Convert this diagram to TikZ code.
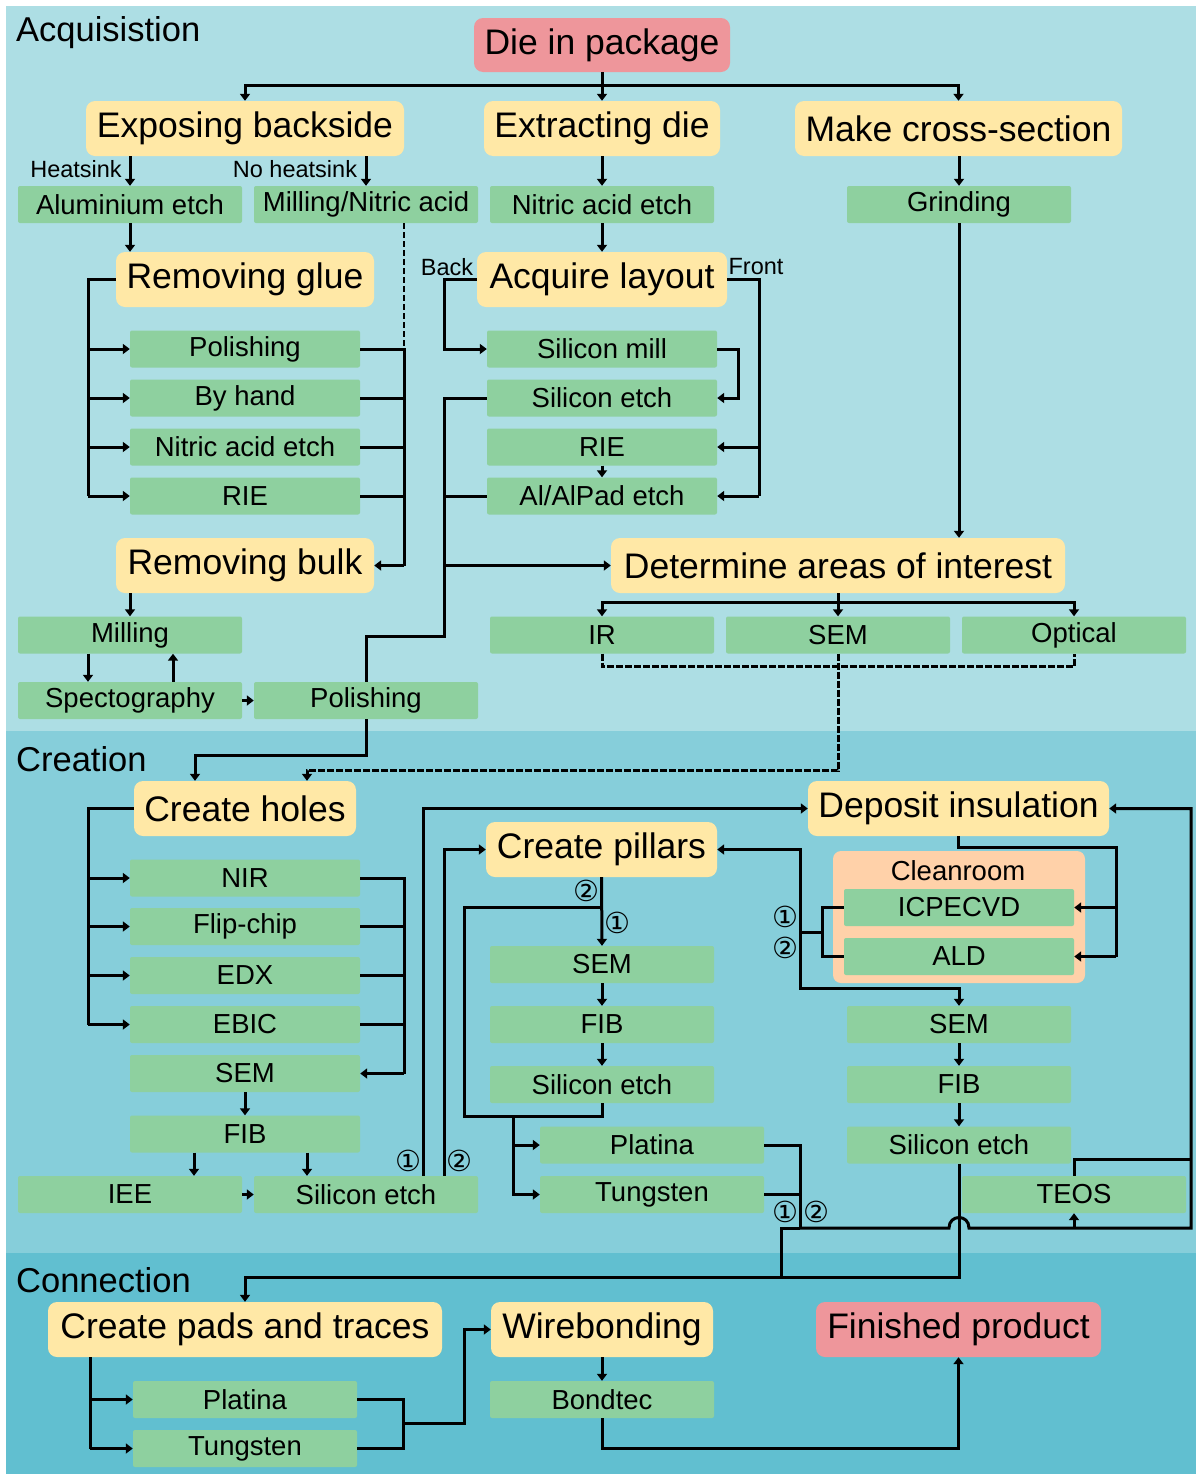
\documentclass[tikz,border=0pt]{standalone}
\usepackage{fontspec}
\setmainfont{Liberation Sans}
\newfontfamily\circfont{DejaVu Sans}
\usetikzlibrary{arrows.meta}
\definecolor{bgA}{HTML}{ADDEE4}
\definecolor{bgB}{HTML}{86CEDA}
\definecolor{bgC}{HTML}{61BFD0}
\definecolor{ylw}{HTML}{FFE8A6}
\definecolor{grn}{HTML}{8ED09F}
\definecolor{pnk}{HTML}{EE969B}
\definecolor{pch}{HTML}{FFD1A9}
\begin{document}
\begin{tikzpicture}[x=1pt,y=-1pt,
 bigbox/.style={fill=ylw, rounded corners=9pt, minimum height=55pt, inner sep=0pt, font=\fontsize{35.5}{40}\selectfont},
 endbox/.style={bigbox, fill=pnk},
 stepbox/.style={fill=grn, rounded corners=2pt, minimum height=37pt, minimum width=224pt, inner sep=0pt, font=\fontsize{27.5}{32}\selectfont},
 wide/.style={minimum width=230pt},
 lbl/.style={font=\fontsize{23.5}{27}\selectfont, inner sep=0pt},
 num/.style={font=\circfont\fontsize{29}{32}\selectfont, inner sep=0pt},
 sect/.style={font=\fontsize{34.5}{40}\selectfont, anchor=west, inner sep=0pt},
 ln/.style={line width=3pt},
 arr/.style={ln, -{Triangle[length=7pt,width=10pt]}},
 dsh/.style={ln, dash pattern=on 7pt off 2pt},
]
% backgrounds
\fill[white] (0,0) rectangle (1198,1475);
\fill[bgA] (6,6) rectangle (1196,731);
\fill[bgB] (6,731) rectangle (1196,1253);
\fill[bgC] (6,1253) rectangle (1196,1474);
\useasboundingbox (0,0) rectangle (1198,1475);

% section titles
\node[sect] (tA) at (16,33) {Acquisistion};
\node[sect] (tB) at (16,759) {Creation};
\node[sect] (tC) at (16,1280) {Connection};

% acquisition nodes
\node[endbox, minimum width=256pt, minimum height=54pt] (die) at (602,45) {Die in package};
\node[bigbox, minimum width=318pt] (exp) at (245,128.5) {Exposing backside};
\node[bigbox, minimum width=236pt] (ext) at (602,128.5) {Extracting die};
\node[bigbox, minimum width=327pt] (mcs) at (958.5,128.5) {Make cross-section};
\node[stepbox] (alu) at (130,204.5) {Aluminium etch};
\node[stepbox] (mill) at (366,204.5) {Milling/Nitric acid};
\node[stepbox] (nae) at (602,204.5) {Nitric acid etch};
\node[stepbox] (grind) at (959,204.5) {Grinding};
\node[bigbox, minimum width=258pt] (glue) at (245,279.5) {Removing glue};
\node[bigbox, minimum width=250pt] (layout) at (602,279.5) {Acquire layout};
\node[stepbox, wide] (gpol) at (245,349) {Polishing};
\node[stepbox, wide] (ghand) at (245,398) {By hand};
\node[stepbox, wide] (gnitric) at (245,447) {Nitric acid etch};
\node[stepbox, wide] (grie) at (245,496) {RIE};
\node[stepbox, wide] (smill) at (602,349) {Silicon mill};
\node[stepbox, wide] (setch) at (602,398) {Silicon etch};
\node[stepbox, wide] (lrie) at (602,447) {RIE};
\node[stepbox, wide] (alpad) at (602,496) {Al/AlPad etch};
\node[bigbox, minimum width=258pt] (bulk) at (245,565.5) {Removing bulk};
\node[bigbox, minimum width=454pt] (doi) at (838,565.5) {Determine areas of interest};
\node[stepbox] (milling) at (130,635) {Milling};
\node[stepbox] (spect) at (130,700.5) {Spectography};
\node[stepbox] (pol2) at (366,700.5) {Polishing};
\node[stepbox] (ir) at (602,635) {IR};
\node[stepbox] (sem1) at (838,635) {SEM};
\node[stepbox] (opt) at (1074,635) {Optical};
\node[lbl] (hs) at (76,169) {Heatsink};
\node[lbl] (nhs) at (295,169) {No heatsink};
\node[lbl] (back) at (447,267) {Back};
\node[lbl] (front) at (756,267) {Front};

% creation nodes
\node[bigbox, minimum width=222pt] (holes) at (245,808.5) {Create holes};
\node[bigbox, minimum width=231pt] (pillars) at (601.5,849.5) {Create pillars};
\node[bigbox, minimum width=301pt] (depins) at (958.5,808.5) {Deposit insulation};
\node[stepbox, wide] (nir) at (245,878) {NIR};
\node[stepbox, wide] (flip) at (245,926.5) {Flip-chip};
\node[stepbox, wide] (edx) at (245,975.5) {EDX};
\node[stepbox, wide] (ebic) at (245,1024.5) {EBIC};
\node[stepbox, wide] (hsem) at (245,1073.5) {SEM};
\node[stepbox, wide] (hfib) at (245,1134) {FIB};
\node[stepbox] (iee) at (130,1194.5) {IEE};
\node[stepbox] (hsi) at (366,1194.5) {Silicon etch};
\node[stepbox] (psem) at (602,964.5) {SEM};
\node[stepbox] (pfib) at (602,1024.5) {FIB};
\node[stepbox] (psi) at (602,1084.5) {Silicon etch};
\node[stepbox] (ppt) at (652,1145) {Platina};
\node[stepbox] (pw) at (652,1194.5) {Tungsten};
\node[fill=pch, rounded corners=8pt, minimum width=252pt, minimum height=132pt, inner sep=0pt] (clean) at (959,917) {};
\node[font=\fontsize{27.5}{32}\selectfont, inner sep=0pt] (cleant) at (958,871) {Cleanroom};
\node[stepbox, wide] (icp) at (959,907.5) {ICPECVD};
\node[stepbox, wide] (ald) at (959,956.5) {ALD};
\node[stepbox] (dsem) at (959,1024.5) {SEM};
\node[stepbox] (dfib) at (959,1084.5) {FIB};
\node[stepbox] (dsi) at (959,1145) {Silicon etch};
\node[stepbox] (teos) at (1074,1194.5) {TEOS};

% connection nodes
\node[bigbox, minimum width=394pt] (pads) at (245,1329.5) {Create pads and traces};
\node[bigbox, minimum width=222pt] (wire) at (602,1329.5) {Wirebonding};
\node[endbox, minimum width=285pt] (fin) at (958.5,1329.5) {Finished product};
\node[stepbox] (cpt) at (245,1399.5) {Platina};
\node[stepbox] (cw) at (245,1448.5) {Tungsten};
\node[stepbox] (bond) at (602,1399.5) {Bondtec};

% circled numbers
\node[num] (n1a) at (408,1161) {①};
\node[num] (n2a) at (459,1161) {②};
\node[num] (n2b) at (586,891) {②};
\node[num] (n1b) at (617,923) {①};
\node[num] (n1c) at (785,917) {①};
\node[num] (n2c) at (785,948) {②};
\node[num] (n1d) at (785,1212) {①};
\node[num] (n2d) at (816,1212) {②};

% bus x positions
\coordinate (xa) at (88,0);
\coordinate (xb) at (173,0);
\coordinate (xc) at (194,0);
\coordinate (xd) at (307,0);
\coordinate (xr) at (404,0);
\coordinate (xq) at (423,0);
\coordinate (xl) at (444,0);
\coordinate (xp) at (464,0);
\coordinate (xt) at (513,0);
\coordinate (xm) at (738,0);
\coordinate (xf) at (759,0);
\coordinate (xv) at (822,0);
\coordinate (xw) at (1116,0);
\coordinate (xz) at (1191,0);
\coordinate (xe) at (90,0);
\coordinate (xg) at (403,0);

% ---- acquisition connectors
\draw[arr] (die.south) -- (ext.north);
\draw[arr] (die.south) -- ++(0,13) -| (exp.north);
\draw[arr] (die.south) -- ++(0,13) -| (mcs.north);
\draw[arr] (alu.north |- exp.south) -- (alu.north);
\draw[arr] (mill.north |- exp.south) -- (mill.north);
\draw[arr] (alu.south) -- (alu.south |- glue.north);
\draw[ln] (glue.west) -| (xa |- grie.west);
\foreach \n in {gpol,ghand,gnitric,grie} \draw[arr] (xa |- \n.west) -- (\n.west);
\draw[ln] (gpol.east) -| (xr |- bulk.east);
\foreach \n in {ghand,gnitric,grie} \draw[ln] (\n.east) -- (xr |- \n.east);
\draw[arr] (xr |- bulk.east) -- (bulk.east);
\draw[line width=1.3pt, dash pattern=on 6pt off 3pt] (mill.south -| xr) -- (xr |- gpol.east);
\draw[arr] (milling.north |- bulk.south) -- (milling.north);
\draw[arr] (xa |- milling.south) -- (xa |- spect.north);
\draw[arr] (xb |- spect.north) -- (xb |- milling.south);
\draw[arr] (spect.east) -- (pol2.west);

\draw[arr] (ext.south) -- (nae.north);
\draw[arr] (nae.south) -- (layout.north);
\draw[arr] (layout.west) -| (xl |- smill.west) -- (smill.west);
\draw[arr] (smill.east) -| (xm |- setch.east) -- (setch.east);
\draw[ln] (layout.east) -| (xf |- alpad.east);
\draw[arr] (xf |- lrie.east) -- (lrie.east);
\draw[arr] (xf |- alpad.east) -- (alpad.east);
\draw[arr] (lrie.south) -- (alpad.north);
\coordinate (j1) at (444,636);
\draw[ln] (setch.west) -| (j1) -| (pol2.north);
\draw[ln] (alpad.west) -- (xl |- alpad.west);
\draw[arr] (xl |- doi.west) -- (doi.west);
\draw[arr] (pol2.south) -- ++(0,36) -| ([xshift=-50pt]holes.north);

\draw[arr] (grind.north |- mcs.south) -- (grind.north);
\draw[arr] (grind.south) -- (grind.south |- doi.north);
\draw[arr] (doi.south) -- (sem1.north);
\draw[arr] (doi.south) -- ++(0,9) -| (ir.north);
\draw[arr] (doi.south) -- ++(0,9) -| (opt.north);
\draw[dsh] (ir.south) -- ++(0,13) -| (opt.south);
\draw[dsh, -{Triangle[length=7pt,width=10pt]}] (sem1.south) -- ++(0,117) -| ([xshift=62pt]holes.north);

% ---- creation connectors
\draw[ln] (holes.west) -| (xa |- ebic.west);
\foreach \n in {nir,flip,edx,ebic} \draw[arr] (xa |- \n.west) -- (\n.west);
\draw[ln] (nir.east) -| (xr |- hsem.east);
\foreach \n in {flip,edx,ebic} \draw[ln] (\n.east) -- (xr |- \n.east);
\draw[arr] (xr |- hsem.east) -- (hsem.east);
\draw[arr] (hsem.south) -- (hfib.north);
\draw[arr] (xc |- hfib.south) -- (xc |- iee.north);
\draw[arr] (xd |- hfib.south) -- (xd |- hsi.north);
\draw[arr] (iee.east) -- (hsi.west);
\draw[arr] (xq |- hsi.north) |- (depins.west);
\draw[arr] (xl |- hsi.north) |- (pillars.west);

\draw[arr] (pillars.south) -- (psem.north);
\coordinate (j2) at (602,907);
\coordinate (j3) at (602,1116);
\draw[ln] (psi.south) -- (j3) -| (xp |- j2) -- (j2);
\draw[arr] (xt |- j3) |- (pw.west);
\draw[arr] (xt |- ppt.west) -- (ppt.west);
\draw[arr] (psem.south) -- (pfib.north);
\draw[arr] (pfib.south) -- (psi.north);

\coordinate (k1) at (800,1228);
\coordinate (k2) at (781,1277);
\coordinate (b1) at (949,1228);
\coordinate (b2) at (969,1228);
\coordinate (k3) at (1191,1159);
\coordinate (k4) at (959,1277);
\draw[ln] (ppt.east) -| (k1);
\draw[ln] (pw.east) -- (pw.east -| k1);
\draw[ln] (k1) -| (k2);
\draw[arr] (k1) -- (b1) .. controls (949,1214) and (969,1214) .. (b2) -- (xz |- k1) |- (depins.east);
\draw[arr] (teos.south |- k1) -- (teos.south);
\draw[ln] (teos.north) |- (k3);
\draw[arr] (dsi.south) -- (k4) -| (pads.north);

\draw[ln] (depins.south) -- ++(0,11) -| (xw |- ald.east);
\draw[arr] (xw |- icp.east) -- (icp.east);
\draw[arr] (xw |- ald.east) -- (ald.east);
\draw[ln] (icp.west) -| (xv |- ald.west) -- (ald.west);
\coordinate (k5) at (822,932);
\coordinate (k6) at (800,932);
\coordinate (k7) at (800,988);
\draw[ln] (k5) -- (k6);
\draw[arr] (k6) |- (pillars.east);
\draw[arr] (k6) -- (k7) -| (dsem.north);
\draw[arr] (dsem.south) -- (dfib.north);
\draw[arr] (dfib.south) -- (dsi.north);

% ---- connection connectors
\draw[ln] (xe |- pads.south) -- (xe |- cw.west);
\draw[arr] (xe |- cpt.west) -- (cpt.west);
\draw[arr] (xe |- cw.west) -- (cw.west);
\draw[ln] (cpt.east) -| (xg |- cw.east) -- (cw.east);
\coordinate (k8) at (403,1423);
\draw[arr] (k8) -| (xp |- wire.west) -- (wire.west);
\draw[arr] (wire.south) -- (bond.north);
\draw[arr] (bond.south) -- ++(0,30) -| (fin.south);
\end{tikzpicture}
\end{document}
